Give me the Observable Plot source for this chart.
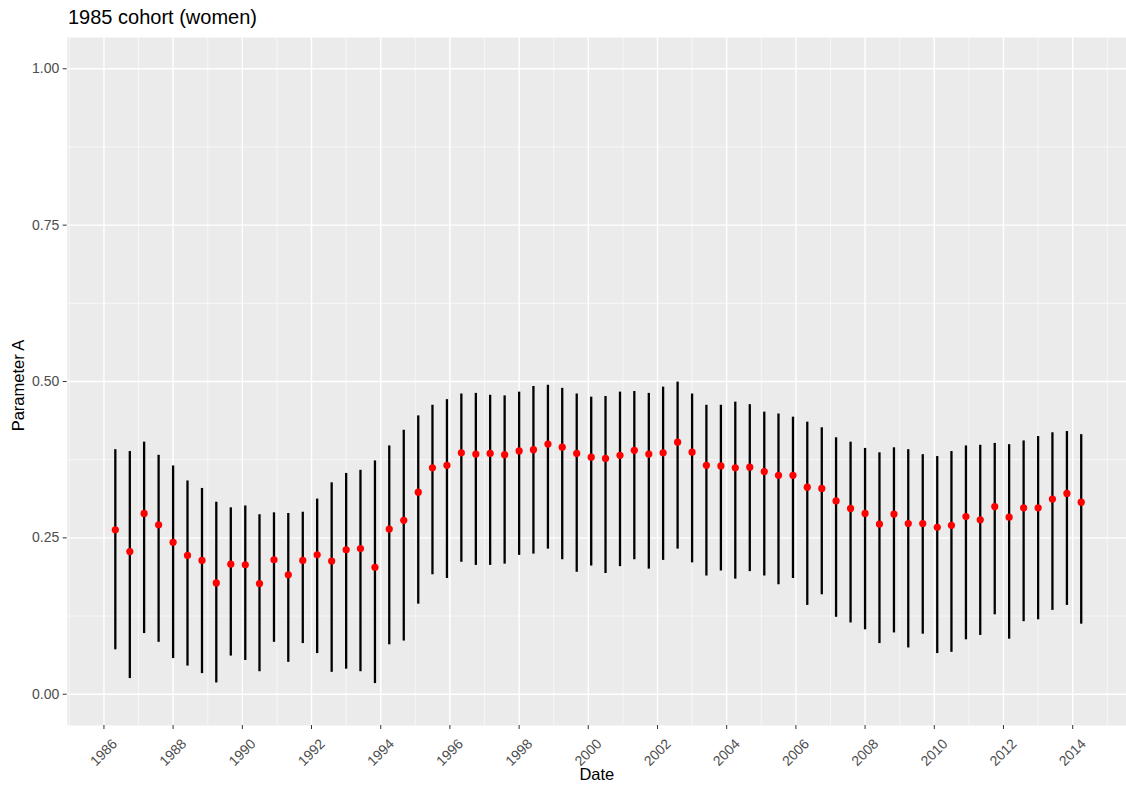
<!DOCTYPE html>
<html>
<head>
<meta charset="utf-8">
<script src="https://cdn.jsdelivr.net/npm/d3@7"></script>
<script src="https://cdn.jsdelivr.net/npm/@observablehq/plot@0.6"></script>
<style>
  html, body { margin: 0; padding: 0; background: #ffffff; }
  #wrap { width: 1126px; height: 787px; overflow: hidden; position: relative; }
  #title { height: 36px; box-sizing: border-box; padding-top: 7px; padding-left: 68px;
           font-family: "Liberation Sans", Arial, sans-serif; font-size: 20px; line-height: 1; color: #000; }
  svg { display: block; }
</style>
</head>
<body>
<div id="wrap">
  <div id="title"></div>
  <div id="chart"></div>
</div>
<script>
const titleText = "1985 cohort (women)";
const xLabel = "Date";
const yLabel = "Parameter A";

const dates = [
  "1986-05-01","1986-10-01","1987-03-01","1987-08-01","1988-01-01","1988-06-01","1988-11-01","1989-04-01","1989-09-01","1990-02-01",
  "1990-07-01","1990-12-01","1991-05-01","1991-10-01","1992-03-01","1992-08-01","1993-01-01","1993-06-01","1993-11-01","1994-04-01",
  "1994-09-01","1995-02-01","1995-07-01","1995-12-01","1996-05-01","1996-10-01","1997-03-01","1997-08-01","1998-01-01","1998-06-01",
  "1998-11-01","1999-04-01","1999-09-01","2000-02-01","2000-07-01","2000-12-01","2001-05-01","2001-10-01","2002-03-01","2002-08-01",
  "2003-01-01","2003-06-01","2003-11-01","2004-04-01","2004-09-01","2005-02-01","2005-07-01","2005-12-01","2006-05-01","2006-10-01",
  "2007-03-01","2007-08-01","2008-01-01","2008-06-01","2008-11-01","2009-04-01","2009-09-01","2010-02-01","2010-07-01","2010-12-01",
  "2011-05-01","2011-10-01","2012-03-01","2012-08-01","2013-01-01","2013-06-01","2013-11-01","2014-04-01"
];

const estimate = [
  0.263,0.228,0.289,0.271,0.243,0.222,0.214,0.178,0.208,0.207,
  0.177,0.215,0.191,0.214,0.223,0.213,0.231,0.233,0.203,0.264,
  0.278,0.323,0.362,0.366,0.386,0.384,0.385,0.383,0.389,0.391,
  0.400,0.395,0.385,0.379,0.377,0.382,0.390,0.384,0.386,0.403,
  0.387,0.366,0.365,0.362,0.363,0.356,0.350,0.350,0.331,0.329,
  0.309,0.297,0.289,0.272,0.288,0.273,0.273,0.267,0.270,0.284,
  0.279,0.300,0.283,0.298,0.298,0.312,0.321,0.307
];

const lower = [
  0.071,0.025,0.097,0.083,0.057,0.045,0.033,0.018,0.061,0.054,
  0.036,0.083,0.051,0.081,0.065,0.035,0.040,0.036,0.017,0.079,
  0.085,0.144,0.191,0.185,0.211,0.206,0.206,0.208,0.222,0.224,
  0.232,0.215,0.195,0.205,0.193,0.204,0.215,0.200,0.214,0.232,
  0.210,0.189,0.197,0.184,0.196,0.189,0.175,0.185,0.142,0.159,
  0.123,0.114,0.103,0.081,0.098,0.074,0.096,0.065,0.067,0.087,
  0.094,0.127,0.088,0.116,0.119,0.134,0.142,0.112
];

const upper = [
  0.391,0.388,0.403,0.382,0.365,0.341,0.329,0.307,0.298,0.301,
  0.287,0.290,0.289,0.291,0.312,0.338,0.353,0.358,0.373,0.397,
  0.422,0.445,0.462,0.471,0.480,0.481,0.478,0.477,0.483,0.492,
  0.494,0.489,0.480,0.475,0.476,0.483,0.484,0.481,0.491,0.499,
  0.480,0.462,0.462,0.467,0.463,0.451,0.448,0.443,0.435,0.426,
  0.410,0.403,0.393,0.386,0.394,0.391,0.383,0.380,0.388,0.397,
  0.398,0.401,0.399,0.405,0.412,0.418,0.420,0.415
];

const xTickYears = [1986,1988,1990,1992,1994,1996,1998,2000,2002,2004,2006,2008,2010,2012,2014];
const xMinorYears = [1985,1987,1989,1991,1993,1995,1997,1999,2001,2003,2005,2007,2009,2011,2013,2015];
const yTicks = [0, 0.25, 0.5, 0.75, 1];
const yMinor = [0.125, 0.375, 0.625, 0.875];

document.getElementById("title").textContent = titleText;

const data = dates.map((d, i) => ({date: new Date(d), est: estimate[i], lo: lower[i], hi: upper[i]}));
const yearDate = y => new Date(Date.UTC(y, 0, 1));
const xTicks = xTickYears.map(yearDate);
const xMinor = xMinorYears.map(yearDate);

const font = "'Liberation Sans', Arial, sans-serif";

const plot = Plot.plot({
  width: 1126,
  height: 751,
  marginLeft: 66.7,
  marginRight: 0,
  marginTop: 1,
  marginBottom: 62,
  style: {fontFamily: font, fontSize: "14px", background: "transparent"},
  x: {type: "utc", domain: [new Date("1984-12-09"), new Date("2015-07-23")]},
  y: {domain: [-0.05, 1.05]},
  marks: [
    Plot.frame({fill: "#EBEBEB", stroke: null}),
    Plot.ruleY(yMinor, {stroke: "#ffffff", strokeWidth: 0.6}),
    Plot.ruleX(xMinor, {stroke: "#ffffff", strokeWidth: 0.6}),
    Plot.ruleY(yTicks, {stroke: "#ffffff", strokeWidth: 1.4}),
    Plot.ruleX(xTicks, {stroke: "#ffffff", strokeWidth: 1.4}),
    Plot.ruleX(data, {x: "date", y1: "lo", y2: "hi", stroke: "#000000", strokeWidth: 2.3}),
    Plot.dot(data, {x: "date", y: "est", fill: "#ff0000", r: 3.6}),
    Plot.axisY({ticks: yTicks, tickFormat: d3.format(".2f"), tickSize: 4, tickPadding: 4,
                stroke: "#333333", fill: "#4d4d4d", label: null, fontSize: 14}),
    Plot.axisX({ticks: xTicks, tickSize: 4, stroke: "#333333", fill: "none", label: null}),
    Plot.text(xTicks, {x: d => d, frameAnchor: "bottom", text: d3.utcFormat("%Y"),
                       rotate: -45, textAnchor: "end", lineAnchor: "middle",
                       dx: 11, dy: 16, fill: "#4d4d4d", fontSize: 14}),
    Plot.text([yLabel], {frameAnchor: "left", textAnchor: "middle", lineAnchor: "middle",
                         dx: -48, dy: 4, rotate: -90, fontSize: 16.5, fill: "#000000"}),
    Plot.text([xLabel], {frameAnchor: "bottom", textAnchor: "middle", lineAnchor: "middle",
                         dy: 49, fontSize: 16.5, fill: "#000000"})
  ]
});
document.getElementById("chart").appendChild(plot);
</script>
</body>
</html>
